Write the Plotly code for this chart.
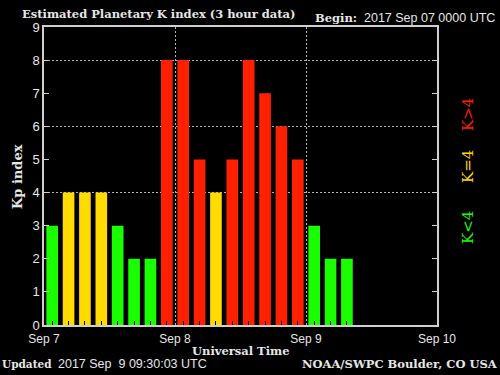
import plotly.graph_objects as go

# ---- data ----
times = [
    "2017-09-07 01:30", "2017-09-07 04:30", "2017-09-07 07:30", "2017-09-07 10:30",
    "2017-09-07 13:30", "2017-09-07 16:30", "2017-09-07 19:30", "2017-09-07 22:30",
    "2017-09-08 01:30", "2017-09-08 04:30", "2017-09-08 07:30", "2017-09-08 10:30",
    "2017-09-08 13:30", "2017-09-08 16:30", "2017-09-08 19:30", "2017-09-08 22:30",
    "2017-09-09 01:30", "2017-09-09 04:30", "2017-09-09 07:30",
]
kp = [3, 4, 4, 4, 3, 2, 2, 8,
      8, 5, 4, 5, 8, 7, 6, 5,
      3, 2, 2]
day_ticks = ["2017-09-07", "2017-09-08", "2017-09-09", "2017-09-10"]
day_labels = ["Sep 7", "Sep 8", "Sep 9", "Sep 10"]
y_ticks = list(range(0, 10))
grid_levels = [4, 6, 8]

GREEN, YELLOW, RED = "#19ff00", "#ffdb00", "#ff2000"
colors = [GREEN if v < 4 else (YELLOW if v == 4 else RED) for v in kp]

SERIF = "DejaVu Serif"
SANS = "Liberation Sans"
FG = "#e6e6e6"
LINE = "#cfcfcf"
GRID = "#b0b0b0"

fig = go.Figure()
fig.add_trace(go.Bar(x=times, y=kp, marker=dict(color=colors, line=dict(width=0)),
                     hoverinfo="x+y"))
# invisible trace to activate overlay axis for grid
fig.add_trace(go.Scatter(x=[day_ticks[0]], y=[0], yaxis="y2", mode="markers",
                         marker=dict(opacity=0), showlegend=False, hoverinfo="skip"))

fig.update_layout(
    width=500, height=375,
    margin=dict(l=44, r=63, t=27, b=50),
    paper_bgcolor="black", plot_bgcolor="black",
    bargap=0.29, showlegend=False,
    xaxis=dict(
        type="date", range=[day_ticks[0], day_ticks[-1]],
        tickvals=day_ticks, ticktext=day_labels, ticks="",
        showgrid=True, gridcolor=GRID, griddash="2px,2px", gridwidth=1,
        showline=True, linecolor=LINE, linewidth=1.5, mirror=True,
        tickfont=dict(family=SANS, size=12, color=FG), ticklabelstandoff=2,
        minor=dict(ticks="inside", ticklen=4, tickcolor="black", tickwidth=1,
                   dtick=3 * 3600 * 1000, tick0=times[0], showgrid=False),
        zeroline=False, fixedrange=True,
    ),
    yaxis=dict(
        range=[0, 9], tickvals=y_ticks, ticks="inside", ticklen=5,
        tickcolor=LINE, tickwidth=1, showgrid=False,
        showline=True, linecolor=LINE, linewidth=1.5, mirror="ticks",
        tickfont=dict(family=SANS, size=13, color=FG),
        zeroline=False, fixedrange=True,
    ),
    yaxis2=dict(
        range=[0, 9], overlaying="y", tickvals=grid_levels, showticklabels=False,
        showgrid=True, gridcolor=GRID, griddash="2px,2px", gridwidth=1,
        ticks="", showline=False, zeroline=False, fixedrange=True, layer="below traces",
    ),
)

W, H, L, T = 393.0, 298.0, 44.0, 27.0
def px(x): return (x - L) / W
def py(y): return 1 - (y - T) / H

ann = [
    dict(text="<b>Estimated Planetary K index (3 hour data)</b>", x=px(20), y=py(14),
         xanchor="left", font=dict(family=SERIF, size=11.5, color=FG)),
    dict(text="<b>Begin:</b>", x=px(313), y=py(18), xanchor="left",
         font=dict(family=SERIF, size=11.5, color=FG)),
    dict(text="2017 Sep 07 0000 UTC", x=px(362), y=py(18), xanchor="left",
         font=dict(family=SANS, size=12.5, color=FG)),
    dict(text="<b>Kp index</b>", x=px(17), y=py(177), textangle=-90,
         font=dict(family=SERIF, size=13, color=FG)),
    dict(text="<b>Universal Time</b>", x=px(241), y=py(351),
         font=dict(family=SERIF, size=11.5, color=FG)),
    dict(text="<b>Updated</b>", x=px(0), y=py(364), xanchor="left",
         font=dict(family=SERIF, size=10.5, color=FG)),
    dict(text="2017 Sep \u00a09 09:30:03 UTC", x=px(56), y=py(364), xanchor="left",
         font=dict(family=SANS, size=12.5, color=FG)),
    dict(text="<b>NOAA/SWPC Boulder, CO USA</b>", x=px(500), y=py(364), xanchor="right",
         font=dict(family=SERIF, size=11.5, color=FG)),
    dict(text="K&gt;4", x=px(468), y=py(115), textangle=-90,
         font=dict(family=SERIF, size=15, color=RED)),
    dict(text="K=4", x=px(468), y=py(167), textangle=-90,
         font=dict(family=SERIF, size=15, color=YELLOW)),
    dict(text="K&lt;4", x=px(468), y=py(228), textangle=-90,
         font=dict(family=SERIF, size=15, color=GREEN)),
]
for a in ann:
    a.update(xref="paper", yref="paper", showarrow=False, yanchor="middle")
    a.setdefault("xanchor", "center")
fig.update_layout(annotations=ann)

fig.write_html("out.html", config={"displayModeBar": False},
               post_script="document.body.style.margin='0';")
